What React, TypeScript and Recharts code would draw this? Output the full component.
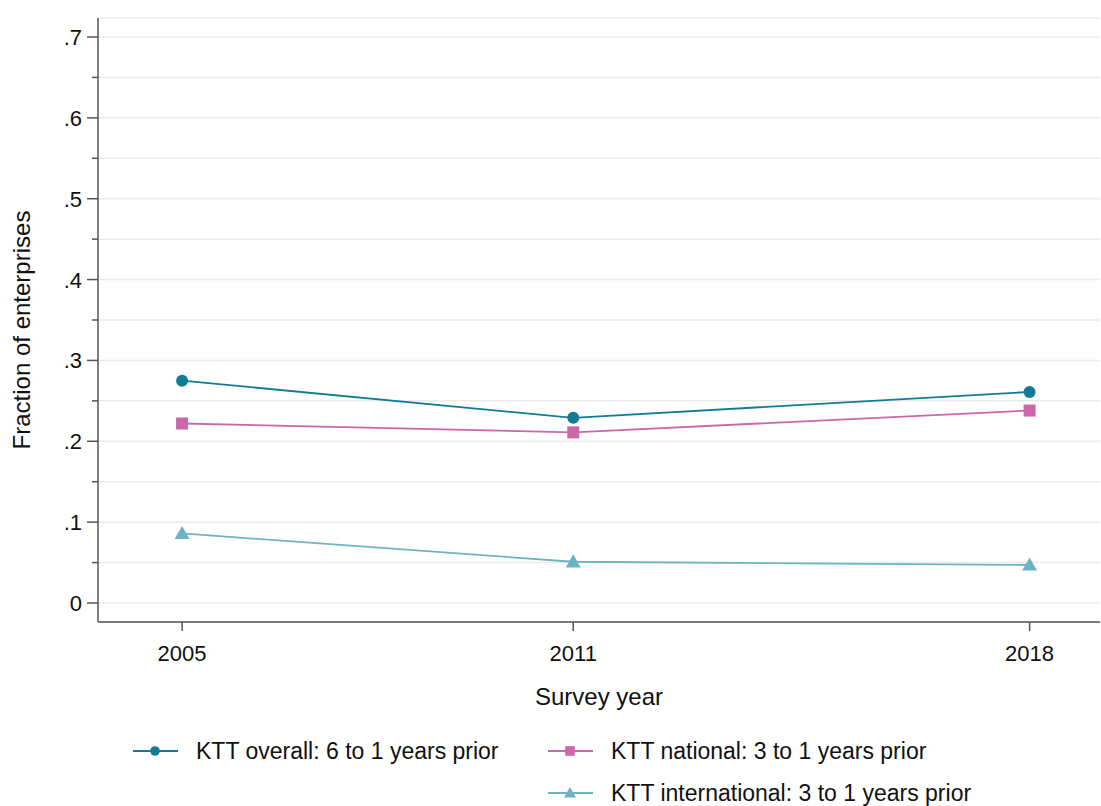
import { CartesianGrid, Line, LineChart, XAxis, YAxis } from "recharts";

const years = [2005, 2011, 2018];
const overall = [0.275, 0.229, 0.261];
const national = [0.222, 0.211, 0.238];
const international = [0.086, 0.051, 0.047];
const yTicks = [0, 0.05, 0.1, 0.15, 0.2, 0.25, 0.3, 0.35, 0.4, 0.45, 0.5, 0.55, 0.6, 0.65, 0.7];

const data = years.map((year, i) => ({
  year,
  overall: overall[i],
  national: national[i],
  international: international[i],
}));

const series = [
  { key: "overall", label: "KTT overall: 6 to 1 years prior", color: "#137b96", shape: "circle" },
  { key: "national", label: "KTT national: 3 to 1 years prior", color: "#cb68a8", shape: "square" },
  { key: "international", label: "KTT international: 3 to 1 years prior", color: "#6db3c4", shape: "triangle" },
];

const FONT = "'Liberation Sans', Arial, sans-serif";
const AXIS = "#555555";

function Marker({ shape, color, cx, cy, size = 1 }: { shape: string; color: string; cx: number; cy: number; size?: number }) {
  if (shape === "circle") return <circle cx={cx} cy={cy} r={6 * size} fill={color} />;
  if (shape === "square") {
    const h = 6 * size;
    return <rect x={cx - h} y={cy - h} width={2 * h} height={2 * h} fill={color} />;
  }
  const h = 7.5 * size;
  return <polygon points={`${cx},${cy - h} ${cx + h},${cy + h * 0.75} ${cx - h},${cy + h * 0.75}`} fill={color} />;
}

function fmtY(v: number) {
  if (v === 0) return "0";
  return "." + Math.round(v * 10);
}

function YTick(props: any) {
  const { y, payload } = props;
  const v = payload.value as number;
  const major = Math.abs(v * 10 - Math.round(v * 10)) < 1e-6;
  return (
    <g>
      <line x1={98 - (major ? 11 : 6)} x2={98} y1={y} y2={y} stroke={AXIS} strokeWidth={1.5} />
      {major && (
        <text x={82} y={y} dy={8} textAnchor="end" fontSize={22} fontFamily={FONT} fill="#111">
          {fmtY(v)}
        </text>
      )}
    </g>
  );
}

function LegendBox() {
  const items = [
    { s: series[0], x: 133, y: 751 },
    { s: series[1], x: 548, y: 751 },
    { s: series[2], x: 548, y: 793 },
  ];
  return (
    <svg width={1101} height={806} style={{ position: "absolute", left: 0, top: 0, pointerEvents: "none" }}>
      {items.map(({ s, x, y }) => (
        <g key={s.key} transform={`translate(0, ${y})`}>
          <line x1={x} x2={x + 45} y1={0} y2={0} stroke={s.color} strokeWidth={1.8} />
          <Marker shape={s.shape} color={s.color} cx={x + 22} cy={0} size={0.8} />
          <text x={x + 63} y={0} dy={8} fontSize={23} fontFamily={FONT} fill="#111">
            {s.label}
          </text>
        </g>
      ))}
    </svg>
  );
}

export default function App() {
  return (
    <div style={{ position: "absolute", left: 0, top: 0, width: 1101, height: 806, background: "#fff" }}>
      <LineChart width={1101} height={806} data={data} margin={{ top: 18, right: 1, bottom: 0, left: 0 }}>
        <CartesianGrid vertical={false} stroke="#ebebeb" strokeWidth={1.5} />
        <XAxis
          dataKey="year"
          type="number"
          domain={[2003.71, 2019.08]}
          ticks={years}
          allowDataOverflow
          stroke={AXIS}
          strokeWidth={1.5}
          tickSize={9}
          tick={{ fill: "#111", fontSize: 22, fontFamily: FONT, dy: 12 }}
          height={184}
          label={{ value: "Survey year", position: "insideTop", offset: 66, fontSize: 24, fontFamily: FONT, fill: "#111" }}
        />
        <YAxis
          type="number"
          domain={[-0.0235, 0.7235]}
          ticks={yTicks}
          allowDataOverflow
          width={98}
          stroke={AXIS}
          strokeWidth={1.5}
          tickLine={false}
          tick={<YTick />}
          interval={0}
          label={{
            content: (p: any) => {
              const vb = p.viewBox;
              const cx = 22;
              const cy = vb.y + vb.height / 2 + 10;
              return (
                <text x={cx} y={cy} transform={`rotate(-90, ${cx}, ${cy})`} textAnchor="middle" dy={8} fontSize={24} fontFamily={FONT} fill="#111">
                  Fraction of enterprises
                </text>
              );
            },
          }}
        />
        {series.map((s) => (
          <Line
            key={s.key}
            dataKey={s.key}
            name={s.label}
            stroke={s.color}
            strokeWidth={1.8}
            isAnimationActive={false}
            dot={(p: any) => <Marker key={`${s.key}-${p.index}`} shape={s.shape} color={s.color} cx={p.cx} cy={p.cy} />}
          />
        ))}
      </LineChart>
      <LegendBox />
    </div>
  );
}
